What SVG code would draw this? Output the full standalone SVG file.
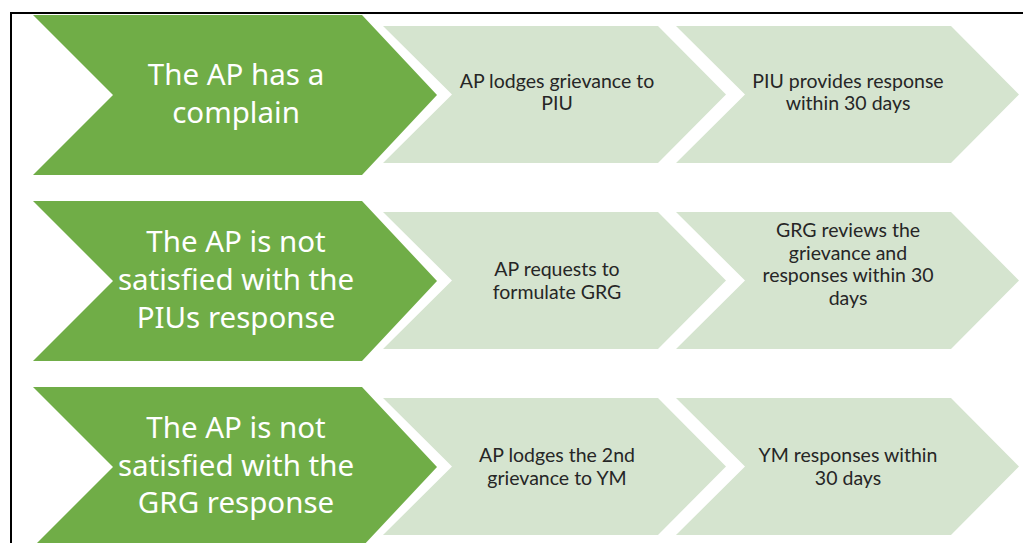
<svg xmlns="http://www.w3.org/2000/svg" width="1023" height="543" viewBox="0 0 1023 543">
<style>
.g{fill:#70AD47}
.l{fill:#D5E4CF}
.gt{font-family:"Noto Sans","Open Sans",sans-serif;font-size:29.5px;fill:#FFFFFF;text-anchor:middle}
.lt{font-family:Lato,"Noto Sans",sans-serif;font-size:19.5px;fill:#262626;text-anchor:middle}
.frame{stroke:#000;stroke-width:2;fill:none}
</style>
<rect width="1023" height="543" fill="#FFFFFF"/>
<path class="frame" d="M10,13 H1023 M11,12 V543"/>
<g id="row1">
<g id="n1a"><polygon class="g" points="33,15 362,15 437,95 362,175 33,175 113,95"/>
<text class="gt" x="236" y="85">The AP has a</text><text class="gt" x="236" y="123">complain</text></g>
<g id="n1b"><polygon class="l" points="383,26 658,26 726,94.5 658,163 383,163 452,94.5"/>
<text class="lt" x="557" y="88">AP lodges grievance to</text><text class="lt" x="557" y="110">PIU</text></g>
<g id="n1c"><polygon class="l" points="676,26 951,26 1019,94.5 951,163 676,163 745,94.5"/>
<text class="lt" x="848" y="88">PIU provides response</text><text class="lt" x="848" y="110">within 30 days</text></g>
</g>
<g id="row2">
<g id="n2a"><polygon class="g" points="33,201 362,201 437,281 362,361 33,361 113,281"/>
<text class="gt" x="236" y="252">The AP is not</text><text class="gt" x="236" y="290">satisfied with the</text><text class="gt" x="236" y="328">PIUs response</text></g>
<g id="n2b"><polygon class="l" points="383,212 658,212 726,280.5 658,349 383,349 452,280.5"/>
<text class="lt" x="557" y="276">AP requests to</text><text class="lt" x="557" y="299">formulate GRG</text></g>
<g id="n2c"><polygon class="l" points="676,212 951,212 1019,280.5 951,349 676,349 745,280.5"/>
<text class="lt" x="848" y="237">GRG reviews the</text><text class="lt" x="848" y="260">grievance and</text><text class="lt" x="848" y="282">responses within 30</text><text class="lt" x="848" y="305">days</text></g>
</g>
<g id="row3">
<g id="n3a"><polygon class="g" points="33,387 362,387 437,467 362,547 33,547 113,467"/>
<text class="gt" x="236" y="438">The AP is not</text><text class="gt" x="236" y="476">satisfied with the</text><text class="gt" x="236" y="513">GRG response</text></g>
<g id="n3b"><polygon class="l" points="383,398 658,398 726,466.5 658,535 383,535 452,466.5"/>
<text class="lt" x="557" y="462">AP lodges the 2nd</text><text class="lt" x="557" y="485">grievance to YM</text></g>
<g id="n3c"><polygon class="l" points="676,398 951,398 1019,466.5 951,535 676,535 745,466.5"/>
<text class="lt" x="848" y="462">YM responses within</text><text class="lt" x="848" y="485">30 days</text></g>
</g>
<g id="connectors"/>
</svg>
